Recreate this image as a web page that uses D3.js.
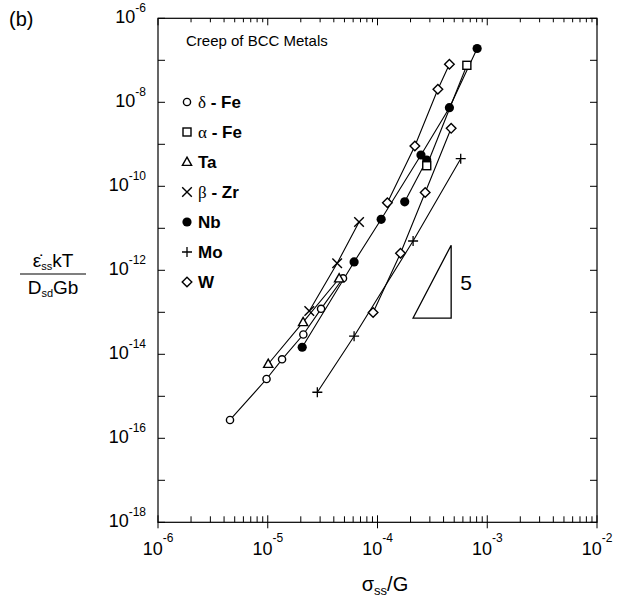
<!DOCTYPE html>
<html><head><meta charset="utf-8">
<script src="https://cdn.jsdelivr.net/npm/d3@7"></script>
<style>
body{margin:0;background:#fff}
svg{display:block}
text{font-family:Arial,"Liberation Sans",sans-serif;fill:#000}
</style>
</head><body>
<svg id="chart" width="623" height="601"></svg>
<script>
// ---- tick labels ----
const xTickValues = [1e-6, 1e-5, 1e-4, 1e-3, 1e-2];
const xTickExps = ["-6", "-5", "-4", "-3", "-2"];
const yTickValues = [1e-6, 1e-8, 1e-10, 1e-12, 1e-14, 1e-16, 1e-18];
const yTickExps = ["-6", "-8", "-10", "-12", "-14", "-16", "-18"];

// ---- series values [sigma/G, strain-rate term] ----
const deltaFe = [[4.53e-6, 2.73e-16], [9.75e-6, 2.58e-15], [1.35e-5, 7.6e-15], [2.11e-5, 2.96e-14], [3.06e-5, 1.21e-13], [4.85e-5, 6.45e-13]];
const alphaFe = [[2.81e-4, 3.09e-10], [6.52e-4, 7.6e-8]];
const ta = [[1.01e-5, 5.87e-15], [2.10e-5, 5.81e-14], [4.47e-5, 6.38e-13]];
const betaZr = [[2.39e-5, 1.07e-13], [4.29e-5, 1.47e-12], [6.79e-5, 1.41e-11]];
const nbA = [[2.06e-5, 1.47e-14], [6.12e-5, 1.58e-12], [1.08e-4, 1.64e-11], [2.49e-4, 5.56e-10], [4.52e-4, 7.43e-9], [8.09e-4, 1.91e-7]];
const nbB = [[1.77e-4, 4.28e-11], [2.81e-4, 4.23e-10]];
const mo = [[2.83e-5, 1.25e-15], [6.12e-5, 2.70e-14], [2.11e-4, 4.99e-12], [5.73e-4, 4.54e-10]];
const wA = [[9.12e-5, 9.89e-14], [1.62e-4, 2.54e-12], [2.72e-4, 7.11e-11], [4.69e-4, 2.40e-9]];
const wB = [[1.23e-4, 4.07e-11], [2.19e-4, 9.12e-10], [3.55e-4, 2.04e-8], [4.52e-4, 8.03e-8]];

// ---- legend ----
const legendMarkers = ["circle", "square", "triangle", "cross", "dot", "plus", "diamond"];
const legendGreek = ["δ", "α", "", "β", "", "", ""];
const legendNames = [" - Fe", " - Fe", "Ta", " - Zr", "Nb", "Mo", "W"];
const chartTitle = "Creep of BCC Metals";

// ---- slope triangle (slope 5) ----
const slopeX = [2.11e-4, 4.69e-4];
const slopeYBase = 7.3e-14;
const slopeValue = 5;

const series = [
  {data: deltaFe, marker: "circle"},
  {data: ta, marker: "triangle"},
  {data: betaZr, marker: "cross"},
  {data: nbA, marker: "dot"},
  {data: nbB, marker: "dot"},
  {data: mo, marker: "plus"},
  {data: wA, marker: "diamond"},
  {data: wB, marker: "diamond"},
  {data: alphaFe, marker: "square"}
];

const svg = d3.select("#chart");
const L = 158, R = 597, T = 18.3, B = 522.3;
const x = d3.scaleLog().domain([1e-6, 1e-2]).range([L, R]);
const y = d3.scaleLog().domain([1e-18, 1e-6]).range([B, T]);

// frame
svg.append("rect").attr("x", L).attr("y", T).attr("width", R - L).attr("height", B - T)
  .attr("fill", "none").attr("stroke", "#000").attr("stroke-width", 1.2);

// x ticks (major + minor), bottom and top
const xAll = x.ticks(40);
const gx = svg.append("g").attr("stroke", "#000").attr("stroke-width", 1);
xAll.forEach(v => {
  const major = Math.abs(Math.log10(v) - Math.round(Math.log10(v))) < 1e-9;
  const px = x(v);
  if (major) {
    gx.append("line").attr("x1", px).attr("x2", px).attr("y1", B - 7).attr("y2", B + 6);
    gx.append("line").attr("x1", px).attr("x2", px).attr("y1", T).attr("y2", T + 7);
  } else {
    gx.append("line").attr("x1", px).attr("x2", px).attr("y1", B - 6).attr("y2", B);
    gx.append("line").attr("x1", px).attr("x2", px).attr("y1", T).attr("y2", T + 4);
  }
});
// y ticks every decade
d3.range(-18, -5).forEach(e => {
  const py = y(Math.pow(10, e));
  gx.append("line").attr("x1", L).attr("x2", L + 7).attr("y1", py).attr("y2", py);
  gx.append("line").attr("x1", R - 7).attr("x2", R).attr("y1", py).attr("y2", py);
});

// x tick labels
xTickValues.forEach((v, i) => {
  const t = svg.append("text").attr("x", x(v)).attr("y", 555).attr("text-anchor", "middle")
    .style("font-size", "18px");
  t.append("tspan").text("10");
  t.append("tspan").attr("dy", -13).style("font-size", "12px").text(xTickExps[i]);
});
// y tick labels
yTickValues.forEach((v, i) => {
  const t = svg.append("text").attr("x", 146).attr("y", y(v) + 5).attr("text-anchor", "end")
    .style("font-size", "18px");
  t.append("tspan").text("10");
  t.append("tspan").attr("dy", -11).style("font-size", "12px").text(yTickExps[i]);
});

// axis titles
const xt = svg.append("text").attr("x", 385).attr("y", 591).attr("text-anchor", "middle").style("font-size", "20px");
xt.append("tspan").text("σ");
xt.append("tspan").attr("dy", 4).style("font-size", "13px").text("ss");
xt.append("tspan").attr("dy", -4).text("/G");

const num = svg.append("text").attr("x", 53).attr("y", 267).attr("text-anchor", "middle").style("font-size", "19px");
num.append("tspan").text("ε̇");
num.append("tspan").attr("dy", 3).style("font-size", "11px").text("ss");
num.append("tspan").attr("dy", -3).text("kT");
svg.append("line").attr("x1", 20).attr("x2", 86).attr("y1", 274).attr("y2", 274).attr("stroke", "#000").attr("stroke-width", 1.2);
const den = svg.append("text").attr("x", 53).attr("y", 294).attr("text-anchor", "middle").style("font-size", "19px");
den.append("tspan").text("D");
den.append("tspan").attr("dy", 3).style("font-size", "11px").text("sd");
den.append("tspan").attr("dy", -3).text("Gb");

svg.append("text").attr("x", 9).attr("y", 26).style("font-size", "20px").text("(b)");

// marker drawing
function drawMarker(g, type, cx, cy) {
  const s = "#000";
  switch (type) {
    case "circle": g.append("circle").attr("cx", cx).attr("cy", cy).attr("r", 3.6).attr("fill", "#fff").attr("stroke", s).attr("stroke-width", 1.4); break;
    case "dot": g.append("circle").attr("cx", cx).attr("cy", cy).attr("r", 4.6).attr("fill", s); break;
    case "square": g.append("rect").attr("x", cx - 4).attr("y", cy - 4).attr("width", 8).attr("height", 8).attr("fill", "#fff").attr("stroke", s).attr("stroke-width", 1.4); break;
    case "triangle": g.append("path").attr("d", `M${cx},${cy - 4.8}L${cx + 4.6},${cy + 3.4}L${cx - 4.6},${cy + 3.4}Z`).attr("fill", "#fff").attr("stroke", s).attr("stroke-width", 1.4); break;
    case "diamond": g.append("path").attr("d", `M${cx},${cy - 4.8}L${cx + 4.8},${cy}L${cx},${cy + 4.8}L${cx - 4.8},${cy}Z`).attr("fill", "#fff").attr("stroke", s).attr("stroke-width", 1.4); break;
    case "cross": g.append("path").attr("d", `M${cx - 4.8},${cy - 4.8}L${cx + 4.8},${cy + 4.8}M${cx - 4.8},${cy + 4.8}L${cx + 4.8},${cy - 4.8}`).attr("stroke", s).attr("stroke-width", 1.4); break;
    case "plus": g.append("path").attr("d", `M${cx - 5},${cy}L${cx + 5},${cy}M${cx},${cy - 5}L${cx},${cy + 5}`).attr("stroke", s).attr("stroke-width", 1.3); break;
  }
}

// lines
const line = d3.line().x(d => x(d[0])).y(d => y(d[1]));
const gl = svg.append("g");
series.forEach(sr => {
  gl.append("path").attr("d", line(sr.data)).attr("fill", "none").attr("stroke", "#000").attr("stroke-width", 1.1);
});
const gm = svg.append("g");
series.forEach(sr => sr.data.forEach(d => drawMarker(gm, sr.marker, x(d[0]), y(d[1]))));

// slope triangle
const yTop = slopeYBase * Math.pow(slopeX[1] / slopeX[0], slopeValue);
svg.append("path")
  .attr("d", `M${x(slopeX[0])},${y(slopeYBase)}L${x(slopeX[1])},${y(yTop)}L${x(slopeX[1])},${y(slopeYBase)}Z`)
  .attr("fill", "none").attr("stroke", "#000").attr("stroke-width", 1.3);
svg.append("text").attr("x", x(slopeX[1]) + 9).attr("y", (y(yTop) + y(slopeYBase)) / 2 + 8)
  .style("font-size", "21px").text(String(slopeValue));

// title & legend
svg.append("text").attr("x", 186).attr("y", 46).style("font-size", "15px").text(chartTitle);
legendNames.forEach((n, i) => {
  const ly = 102 + i * 30;
  drawMarker(svg, legendMarkers[i], 187, ly);
  const t = svg.append("text").attr("x", 198).attr("y", ly + 6).style("font-size", "17px");
  if (legendGreek[i]) t.append("tspan").style("font-family", "'Liberation Serif','Times New Roman',serif").text(legendGreek[i]);
  t.append("tspan").style("font-weight", "bold").text(n);
});
</script>
</body></html>
